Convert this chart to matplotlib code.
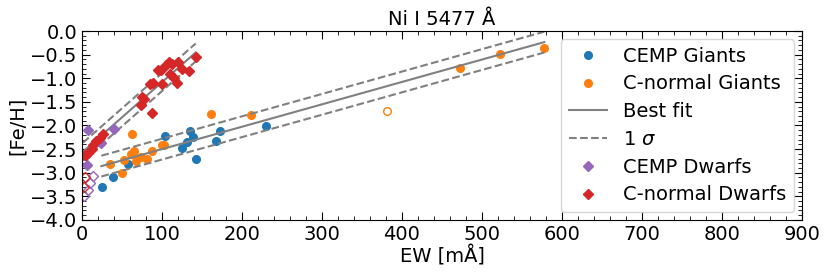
import matplotlib

matplotlib.use("Agg")
import matplotlib.pyplot as plt
import matplotlib.ticker as mticker
import numpy as np

# CEMP giants (blue circles)
cemp_giant_ew = [25, 39, 57, 104, 125, 131, 135, 138, 142, 167, 172, 230]
cemp_giant_feh = [-3.31, -3.10, -2.81, -2.22, -2.48, -2.34, -2.11, -2.25, -2.71, -2.32, -2.11, -2.01]

# C-normal giants (orange circles)
cn_giant_ew = [35, 50, 52, 61, 62, 65, 67, 74, 81, 87, 100, 102, 161, 211, 472, 522, 577]
cn_giant_feh = [-2.82, -3.01, -2.74, -2.60, -2.19, -2.53, -2.76, -2.67, -2.71, -2.55,
                -2.41, -2.41, -1.76, -1.77, -0.79, -0.48, -0.36]
cn_giant_open_ew = [381]
cn_giant_open_feh = [-1.69]

# CEMP dwarfs (purple diamonds)
cemp_dwarf_ew = [7.5, 40, 24, 6.6]
cemp_dwarf_feh = [-2.10, -2.08, -2.38, -2.84]
cemp_dwarf_open_ew = [13.5, 10, 7, 2]
cemp_dwarf_open_feh = [-3.07, -3.22, -3.36, -3.50]

# C-normal dwarfs (red diamonds)
cn_dwarf_ew = [3, 5, 7.5, 12, 14, 17, 22, 26, 73, 75, 77, 85, 88, 87.5, 95, 99, 100,
               105, 108, 110, 112, 115, 118, 120, 125, 133, 142]
cn_dwarf_feh = [-2.63, -2.62, -2.59, -2.49, -2.42, -2.33, -2.27, -2.17, -1.57, -1.39,
                -1.44, -1.12, -1.10, -1.73, -0.83, -0.83, -1.12, -0.72, -0.65, -0.91,
                -0.69, -1.00, -1.09, -0.65, -0.80, -0.84, -0.56]
cn_dwarf_open_ew = [3, 2.5]
cn_dwarf_open_feh = [-3.09, -3.30]

# Fits: slope, intercept, 1 sigma, x range
giant_fit = (0.00474, -2.974, 0.22, 24, 578)
dwarf_fit = (0.0149, -2.57, 0.19, 1, 142)

BLUE = "#1f77b4"
ORANGE = "#ff7f0e"
PURPLE = "#9467bd"
RED = "#d62728"
GREY = "gray"

plt.rcParams["font.size"] = 14

fig = plt.figure(figsize=(8.3, 2.77), dpi=100)
ax = fig.add_axes([0.099, 0.206, 0.867, 0.682])

ms = 5.5
ax.plot(cemp_giant_ew, cemp_giant_feh, "o", color=BLUE, ms=ms, ls="none", label="CEMP Giants")
ax.plot(cn_giant_ew, cn_giant_feh, "o", color=ORANGE, ms=ms, ls="none", label="C-normal Giants")
ax.plot(cn_giant_open_ew, cn_giant_open_feh, "o", mfc="none", mec=ORANGE, ms=ms, ls="none")

for i, (slope, icpt, sig, x0, x1) in enumerate((giant_fit, dwarf_fit)):
    xs = np.array([x0, x1])
    ax.plot(xs, icpt + slope * xs, "-", color=GREY, lw=1.5,
            label="Best fit" if i == 0 else None)
    ax.plot(xs, icpt + sig + slope * xs, "--", color=GREY, lw=1.5,
            label=r"1 $\sigma$" if i == 0 else None)
    ax.plot(xs, icpt - sig + slope * xs, "--", color=GREY, lw=1.5)

ax.plot(cemp_dwarf_ew, cemp_dwarf_feh, "D", color=PURPLE, ms=ms, ls="none", label="CEMP Dwarfs")
ax.plot(cemp_dwarf_open_ew, cemp_dwarf_open_feh, "D", mfc="none", mec=PURPLE, ms=ms, ls="none")
ax.plot(cn_dwarf_ew, cn_dwarf_feh, "D", color=RED, ms=ms, ls="none", label="C-normal Dwarfs")
ax.plot(cn_dwarf_open_ew, cn_dwarf_open_feh, "D", mfc="none", mec=RED, ms=ms, ls="none")

ax.set_xlim(0, 900)
ax.set_ylim(-4.0, 0.0)
ax.xaxis.set_major_locator(mticker.MultipleLocator(100))
ax.xaxis.set_minor_locator(mticker.MultipleLocator(20))
ax.yaxis.set_major_locator(mticker.MultipleLocator(0.5))
ax.yaxis.set_minor_locator(mticker.MultipleLocator(0.1))
ax.tick_params(which="both", direction="in", top=True, right=True)
ax.tick_params(which="major", length=6)
ax.tick_params(which="minor", length=3)

ax.set_xlabel("EW [mÅ]", labelpad=1)
ax.set_ylabel("[Fe/H]", labelpad=2)
ax.set_title("Ni I 5477 Å", fontsize=14, pad=4)
ax.legend(loc="upper right", numpoints=1, fontsize=14, handlelength=2.0,
          borderaxespad=0.4, labelspacing=0.45)

fig.savefig("out.png", dpi=100)
